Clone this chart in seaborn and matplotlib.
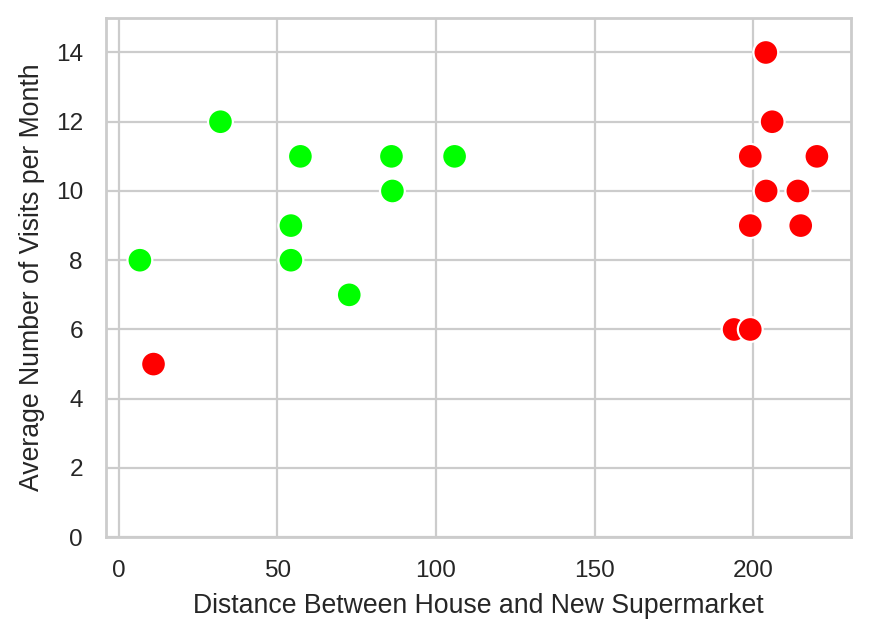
import matplotlib
matplotlib.use("Agg")
import matplotlib.pyplot as plt
import seaborn as sns
import pandas as pd

distance = [6.7, 32.1, 54.3, 54.3, 57.3, 72.7, 86.0, 86.3, 105.9,
            11.0, 204.0, 206.0, 199.1, 220.1, 204.1, 214.1, 199.1, 215.0, 194.0, 199.1]
visits = [8, 12, 9, 8, 11, 7, 11, 10, 11,
          5, 14, 12, 11, 11, 10, 10, 9, 9, 6, 6]
group = ["near"] * 9 + ["far"] * 11
palette = {"near": "#00FF00", "far": "#FF0000"}

df = pd.DataFrame({"distance": distance, "visits": visits, "group": group})

sns.set_theme(style="whitegrid", context="paper")
plt.rcParams['font.family'] = ['Liberation Sans', 'DejaVu Sans']

fig = plt.figure(figsize=(869 / 200, 638 / 200), dpi=200)
ax = fig.add_axes([0.122, 0.158, 0.857, 0.814])
sns.scatterplot(data=df, x="distance", y="visits", hue="group", palette=palette,
                s=80, edgecolor="white", linewidth=0.8, legend=False, ax=ax)
ax.set_ylim(0, 15)
ax.set_xlabel("Distance Between House and New Supermarket")
ax.set_ylabel("Average Number of Visits per Month")
fig.savefig("out.png", dpi=200)
